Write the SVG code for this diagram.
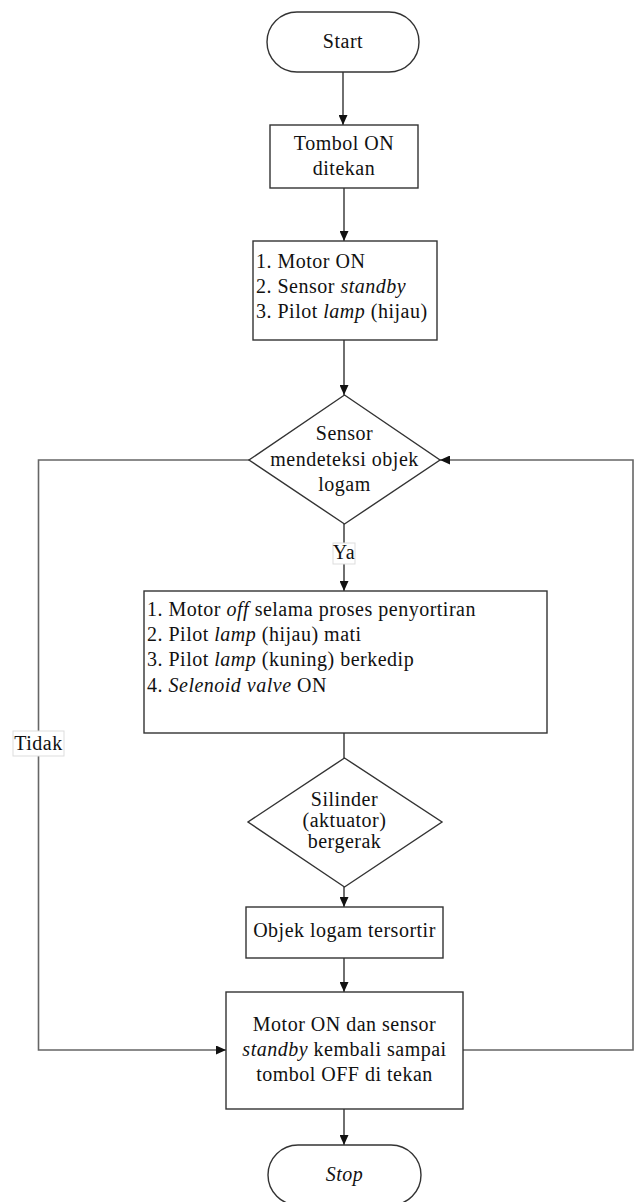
<svg xmlns="http://www.w3.org/2000/svg" width="635" height="1202" viewBox="0 0 635 1202">
<style>
.s{fill:#fff;stroke:#333;stroke-width:1.4}
.t{font-family:'Liberation Serif','Times New Roman',Tinos,'DejaVu Serif',serif;font-size:20px;letter-spacing:0.5px;fill:#111}
.c{text-anchor:middle}
.i{font-style:italic}
.ln{fill:none;stroke:#333;stroke-width:1.4}
.lp{fill:none;stroke:#666;stroke-width:1.6}
.lb{fill:#fff;stroke:#ddd;stroke-width:1}
</style>
<defs>
<marker id="ah" markerUnits="userSpaceOnUse" markerWidth="10" markerHeight="9" refX="10" refY="4.5" orient="auto">
<path d="M0,0 L10,4.5 L0,9 z" fill="#111"/>
</marker>
</defs>
<g id="connectors">
<line class="ln" x1="343" y1="72" x2="343" y2="125" marker-end="url(#ah)"/>
<line class="ln" x1="344" y1="188" x2="344" y2="241" marker-end="url(#ah)"/>
<line class="ln" x1="344" y1="340" x2="344" y2="395" marker-end="url(#ah)"/>
<line class="ln" x1="344" y1="524" x2="344" y2="591" marker-end="url(#ah)"/>
<line class="ln" x1="344" y1="733" x2="344" y2="758"/>
<line class="ln" x1="344" y1="887" x2="344" y2="907" marker-end="url(#ah)"/>
<line class="ln" x1="344" y1="958" x2="344" y2="992" marker-end="url(#ah)"/>
<line class="ln" x1="344" y1="1109" x2="344" y2="1145" marker-end="url(#ah)"/>
<polyline class="lp" points="249,460 38.5,460 38.5,1050 226,1050" marker-end="url(#ah)"/>
<polyline class="lp" points="463,1050 633,1050 633,460 440,460" marker-end="url(#ah)"/>
<rect class="lb" x="333" y="543" width="22" height="21"/>
<text class="t c" x="344" y="559" font-family="Liberation Serif, serif">Ya</text>
<rect class="lb" x="13" y="731" width="51" height="25"/>
<text class="t c" x="38.5" y="750" font-family="Liberation Serif, serif">Tidak</text>
</g>
<g id="start">
<rect class="s" x="267" y="12" width="152" height="60" rx="30" ry="30"/>
<text class="t c" x="343" y="48">Start</text>
</g>
<g id="tombol-on">
<rect class="s" x="270" y="125" width="148" height="63"/>
<text class="t c" x="344" y="150">Tombol ON</text>
<text class="t c" x="344" y="175">ditekan</text>
</g>
<g id="init">
<rect class="s" x="253" y="241" width="184" height="99"/>
<text class="t" x="256" y="268">1. Motor ON</text>
<text class="t" x="256" y="293">2. Sensor <tspan class="i">standby</tspan></text>
<text class="t" x="256" y="318">3. Pilot <tspan class="i">lamp</tspan> (hijau)</text>
</g>
<g id="sensor-decision">
<polygon class="s" points="344.5,395 440,460 344.5,524 249,460"/>
<text class="t c" x="344.5" y="440">Sensor</text>
<text class="t c" x="344.5" y="466">mendeteksi objek</text>
<text class="t c" x="344.5" y="491">logam</text>
</g>
<g id="sorting">
<rect class="s" x="144" y="591" width="403" height="142"/>
<text class="t" x="147" y="616">1. Motor <tspan class="i">off</tspan> selama proses penyortiran</text>
<text class="t" x="147" y="641">2. Pilot <tspan class="i">lamp</tspan> (hijau) mati</text>
<text class="t" x="147" y="666">3. Pilot <tspan class="i">lamp</tspan> (kuning) berkedip</text>
<text class="t" x="147" y="692">4. <tspan class="i">Selenoid valve</tspan> ON</text>
</g>
<g id="cylinder-decision">
<polygon class="s" points="344.5,758 442,822 344.5,887 248,822"/>
<text class="t c" x="344.5" y="806">Silinder</text>
<text class="t c" x="344.5" y="827">(aktuator)</text>
<text class="t c" x="344.5" y="848">bergerak</text>
</g>
<g id="sorted">
<rect class="s" x="246" y="907" width="197" height="51"/>
<text class="t c" x="344.5" y="937">Objek logam tersortir</text>
</g>
<g id="resume">
<rect class="s" x="226" y="992" width="237" height="117"/>
<text class="t c" x="344.5" y="1031">Motor ON dan sensor</text>
<text class="t c" x="344.5" y="1056"><tspan class="i">standby</tspan> kembali sampai</text>
<text class="t c" x="344.5" y="1081">tombol OFF di tekan</text>
</g>
<g id="stop">
<rect class="s" x="268" y="1145" width="153" height="60" rx="30" ry="30"/>
<text class="t c i" x="344.5" y="1181">Stop</text>
</g>
</svg>
